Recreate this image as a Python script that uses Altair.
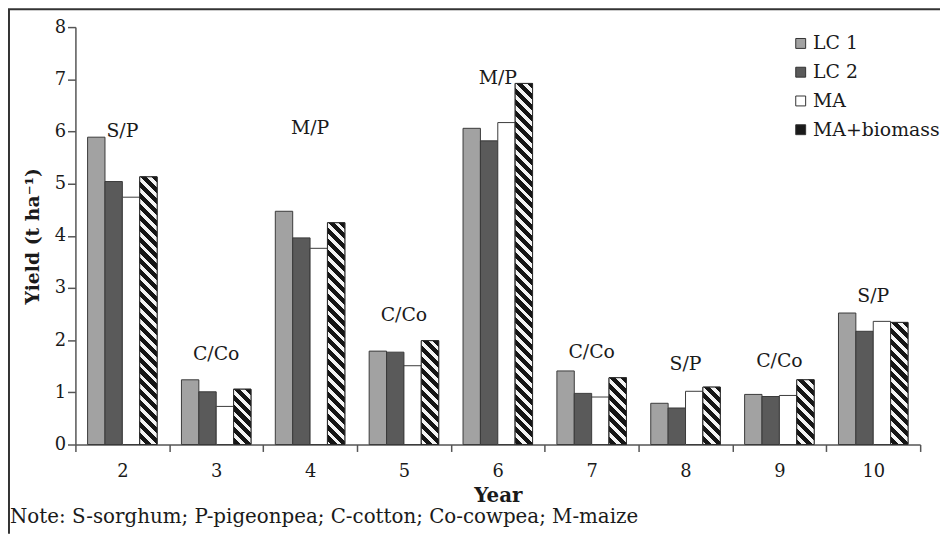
import altair as alt
import pandas as pd

years = ["2", "3", "4", "5", "6", "7", "8", "9", "10"]
series = ["LC 1", "LC 2", "MA", "MA+biomass"]
lc1 = [5.89, 1.24, 4.47, 1.79, 6.06, 1.41, 0.79, 0.96, 2.52]
lc2 = [5.04, 1.01, 3.96, 1.77, 5.82, 0.98, 0.70, 0.92, 2.17]
ma = [4.74, 0.73, 3.76, 1.51, 6.17, 0.91, 1.02, 0.94, 2.36]
mab = [5.13, 1.06, 4.25, 1.99, 6.92, 1.28, 1.10, 1.24, 2.34]
crops = ["S/P", "C/Co", "M/P", "C/Co", "M/P", "C/Co", "S/P", "C/Co", "S/P"]
crop_y = [6.0, 1.73, 6.06, 2.49, 7.03, 1.77, 1.54, 1.60, 2.85]
note = "Note: S-sorghum; P-pigeonpea; C-cotton; Co-cowpea; M-maize"
colors = ["#a2a2a2", "#5a5a5a", "#ffffff", "#1a1a1a"]

W, H = 852, 421
YMAX = 8
PAD_O = 0.7
BAR_W = W / len(years) / (len(series) + 2 * PAD_O)
FONT = "DejaVu Serif"

rows = []
for vals, s in zip([lc1, lc2, ma, mab], series):
    for y, v in zip(years, vals):
        rows.append({"year": y, "series": s, "value": v})
df = pd.DataFrame(rows)
lab = pd.DataFrame({"year": years, "crop": crops, "ly": crop_y})

x_enc = alt.X("year:N", scale=alt.Scale(domain=years, paddingInner=0, paddingOuter=0),
              axis=alt.Axis(title="Year", labelAngle=0, tickBand="extent", tickSize=7,
                            labelPadding=11, titlePadding=5, titleFontSize=20,
                            labelFontSize=18))
xo_enc = alt.XOffset("series:N", scale=alt.Scale(domain=series, paddingInner=0, paddingOuter=PAD_O))
y_enc = alt.Y("value:Q", scale=alt.Scale(domain=[0, YMAX], nice=False),
              axis=alt.Axis(title="Yield (t ha⁻¹)", values=list(range(0, 9)), tickSize=8,
                            labelPadding=2, titlePadding=12, titleFontSize=19,
                            labelFontSize=18, grid=False))


def hatch(v, period=11.0, frac_black=0.56):
    h = v * H / YMAX
    w = BAR_W
    k = (h + w) / (h + w * w / h)
    L = h + w
    black, white = "#151515", "#f4f4f4"
    stops = [{"color": black, "offset": 0}]
    n = 0
    cur = black
    while True:
        d1 = n * period + frac_black * period
        d2 = (n + 1) * period
        for dd, col in ((d1, white), (d2, black)):
            if dd >= L:
                stops.append({"color": cur, "offset": 1})
                return {"gradient": "linear", "x1": 1, "y1": 0,
                        "x2": 1 - (w / h) * k, "y2": k, "stops": stops}
            stops.append({"color": cur, "offset": dd / L})
            stops.append({"color": col, "offset": dd / L})
            cur = col
        n += 1


base = alt.Chart(df).mark_bar(stroke="#3a3a3a", strokeWidth=1).encode(
    x=x_enc, xOffset=xo_enc, y=y_enc,
    fill=alt.Fill("series:N", scale=alt.Scale(domain=series, range=colors),
                  legend=alt.Legend(title=None, orient="none", legendX=722, legendY=7,
                                    symbolType="square", symbolSize=100,
                                    symbolStrokeColor="#333", symbolStrokeWidth=1,
                                    labelFont=FONT, labelFontSize=19, labelColor="#1a1a1a",
                                    rowPadding=9, padding=0, labelOffset=3)),
)

layers = [base]
for y, v in zip(years, mab):
    layers.append(
        alt.Chart(df).transform_filter(
            (alt.datum.series == "MA+biomass") & (alt.datum.year == y)
        ).mark_bar(fill=hatch(v), stroke="#2a2a2a", strokeWidth=1).encode(
            x=x_enc, xOffset=xo_enc, y=y_enc)
    )

text = alt.Chart(lab).mark_text(font=FONT, fontSize=19, color="#1a1a1a", baseline="middle").encode(
    x=x_enc, y=alt.Y("ly:Q", scale=alt.Scale(domain=[0, YMAX], nice=False)), text="crop:N")
layers.append(text)

one = pd.DataFrame({"a": [0]})
top_rule = alt.Chart(one).mark_rule(stroke="#333", strokeWidth=2).encode(
    x=alt.value(-68), x2=alt.value(W + 30), y=alt.value(-18))
left_rule = alt.Chart(one).mark_rule(stroke="#333", strokeWidth=2).encode(
    x=alt.value(-67), y=alt.value(-18), y2=alt.value(H + 90))
note_text = alt.Chart(one).mark_text(font=FONT, fontSize=20, color="#1a1a1a",
                                     align="left", baseline="middle").encode(
    x=alt.value(-66), y=alt.value(H + 73), text=alt.value(note))
layers += [top_rule, left_rule, note_text]

chart = alt.layer(*layers).properties(
    width=W, height=H,
    autosize=alt.AutoSizeParams(type="none"),
    padding={"left": 68, "top": 17, "right": 20, "bottom": 88},
).configure_view(stroke=None).configure_axis(
    labelFont=FONT, titleFont=FONT, labelColor="#1a1a1a", titleColor="#1a1a1a",
    domainColor="#555", tickColor="#555", domainWidth=1.5, tickWidth=1.5,
    titleFontWeight="bold",
)

chart.save("out.html", embed_options={"renderer": "svg", "actions": False})
